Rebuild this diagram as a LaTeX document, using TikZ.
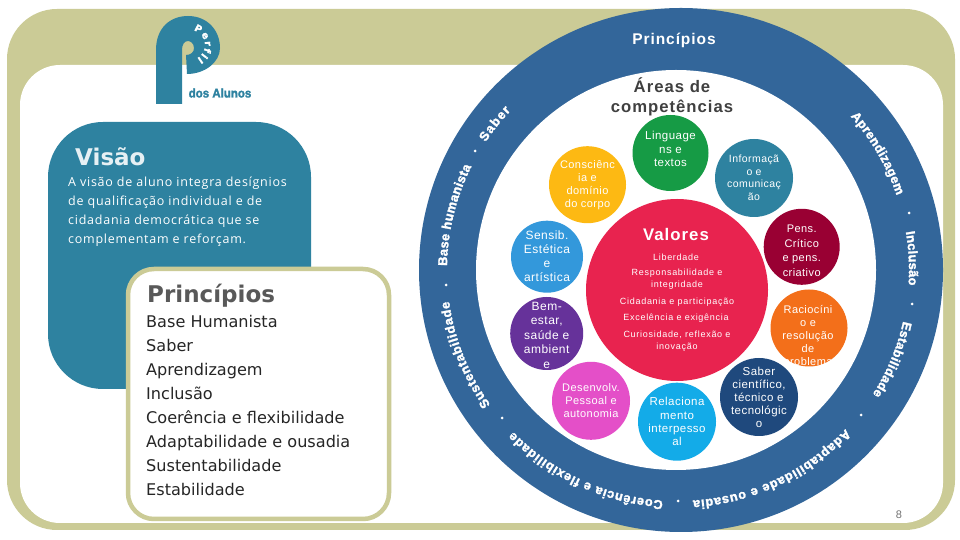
\documentclass[tikz,border=0pt]{standalone}
\usepackage{fontspec}
\usepackage{xcolor}
\usepackage{tikz}
\usetikzlibrary{positioning,decorations.text}
\setmainfont{Liberation Sans}
\newfontfamily\bubfont[LetterSpace=4]{Liberation Sans}
\newfontfamily\headfont[LetterSpace=6]{Liberation Sans}
\newfontfamily\smallfont[LetterSpace=8]{Liberation Sans}
\newfontfamily\bodyfont{DejaVu Sans}
\newfontfamily\parafont[LetterSpace=6]{Open Sans}
\newfontfamily\heavyfont[BoldFeatures={FakeBold=2}]{DejaVu Sans}
\newfontfamily\logofont[BoldFeatures={FakeBold=2}]{Liberation Sans}
\definecolor{olive}{HTML}{CBCB96}
\definecolor{ringblue}{HTML}{33669A}
\definecolor{teal}{HTML}{2E82A0}
\definecolor{consc}{HTML}{FDB913}
\definecolor{lingua}{HTML}{169B45}
\definecolor{verm}{HTML}{E8234F}
\definecolor{sensib}{HTML}{3398DB}
\definecolor{pens}{HTML}{990033}
\definecolor{bem}{HTML}{66329A}
\definecolor{racio}{HTML}{F36F1A}
\definecolor{saber}{HTML}{1F497D}
\definecolor{rela}{HTML}{13ABE8}
\definecolor{desen}{HTML}{E44FC8}

\begin{document}
\begin{tikzpicture}[
  x=1pt,y=1pt,
  bub/.style={circle,inner sep=0pt,minimum size=#1},
  bubtext/.style={white,align=center,inner sep=0pt,font=\bubfont\fontsize{11.5}{13.5}\selectfont},
  vallist/.style={white,align=center,inner sep=0pt,font=\smallfont\fontsize{9}{12.5}\selectfont},
  ringlbl/.style={decorate,decoration={text along path,text align=fit to path,text={|\logofont\bfseries\fontsize{12.8}{14}\selectfont\color{white}|#1}}},
  ringdot/.style={circle,fill=white,inner sep=0pt,minimum size=3pt},
  panel/.style={rectangle,inner sep=0pt}
]
  \useasboundingbox (0,0) rectangle (960,540);
  % frame
  \node[panel,fill=olive,rounded corners=50pt,minimum width=948pt,minimum height=521pt] (frame) at (481,270.5) {};
  \node[panel,fill=white,rounded corners=40pt,minimum width=923pt,minimum height=458pt] (sheet) at (481.5,246) {};

  % logo
  \fill[teal] (156,436) -- (156,490) .. controls (156,512) and (170,524) .. (188,524)
    .. controls (207,524) and (220,510) .. (220,492)
    .. controls (220,478) and (205,466) .. (187,466) -- (186,485)
    .. controls (191,485) and (194,488) .. (194,492)
    .. controls (194,497) and (190,499) .. (188,499)
    .. controls (184,499) and (182,495) .. (182,490) -- (182,436) -- cycle;
  \path[decorate,decoration={text along path,text align=fit to path,text={|\heavyfont\bfseries\fontsize{9.5}{11}\selectfont\color{white}|Perfil}}]
    (190,495) ++(76:15) arc[start angle=76,end angle=-62,radius=15];
  \node[teal,inner sep=0pt,xscale=0.92,font=\logofont\bfseries\fontsize{12.5}{14}\selectfont] (alunos) at (220,447) {dos Alunos};

  % vision panel
  \node[panel,fill=teal,rounded corners=55pt,minimum width=263pt,minimum height=267pt] (visao) at (179.5,284.5) {};
  \node[inner sep=0pt,anchor=west,white!88!teal,font=\bodyfont\bfseries\fontsize{23}{26}\selectfont] (visaot) at (75,383) {Visão};
  \node[inner sep=0pt,anchor=north west,white,align=left,font=\parafont\fontsize{12.5}{19}\selectfont] (visaop) at (68,363.5)
    {A visão de aluno integra desígnios\\de qualificação individual e de\\cidadania democrática que se\\complementam e reforçam.};

  % principles box
  \node[panel,fill=white,draw=olive,line width=4.5pt,rounded corners=26pt,minimum width=261pt,minimum height=250pt] (princ) at (258.5,146) {};
  \node[inner sep=0pt,anchor=west,black!65,font=\bodyfont\bfseries\fontsize{23}{26}\selectfont] (princt) at (147,244) {Princípios};
  \node[inner sep=0pt,anchor=north west,black!85,align=left,font=\bodyfont\fontsize{16.1}{24}\selectfont] (princl) at (146,224.5)
    {Base Humanista\\Saber\\Aprendizagem\\Inclusão\\Coerência e flexibilidade\\Adaptabilidade e ousadia\\Sustentabilidade\\Estabilidade};

  % ring
  \node[bub=524pt,fill=ringblue] (ring) at (681,270) {};
  \node[bub=400pt,fill=white] (hole) at (676,270) {};
  \coordinate (rc) at (678,270);
  \node[white,font=\headfont\bfseries\fontsize{15.5}{18}\selectfont] (princtop) at (674,500) {Princípios};
  \node[black!75,align=center,inner sep=0pt,font=\headfont\bfseries\fontsize{16.7}{20}\selectfont] (areas) at (672,443) {Áreas de\\competências};

  \path[ringlbl=Base humanista] (rc) ++(179:231) arc[start angle=179,end angle=153.4,radius=231];
  \path[ringlbl=Saber] (rc) ++(146.4:231) arc[start angle=146.4,end angle=136.4,radius=231];
  \path[ringlbl=Aprendizagem] (rc) ++(41.7:231) arc[start angle=41.7,end angle=18.8,radius=231];
  \path[ringlbl=Inclusão] (rc) ++(9.5:231) arc[start angle=9.5,end angle=-3.8,radius=231];
  \path[ringlbl=Estabilidade] (rc) ++(-12.8:231) arc[start angle=-12.8,end angle=-32.6,radius=231];
  \path[ringlbl=Adaptabilidade e ousadia] (rc) ++(-43.5:231) arc[start angle=-43.5,end angle=-86.3,radius=231];
  \path[ringlbl=Coerência e flexibilidade] (rc) ++(-93.7:231) arc[start angle=-93.7,end angle=-135.5,radius=231];
  \path[ringlbl=Sustentabilidade] (rc) ++(-144.3:231) arc[start angle=-144.3,end angle=-172.2,radius=231];

  \node[ringdot] (dot1) at (446,255) {};
  \node[ringdot] (dot2) at (475,389) {};
  \node[ringdot] (dot3) at (909,327) {};
  \node[ringdot] (dot4) at (912,236) {};
  \node[ringdot] (dot5) at (861,125) {};
  \node[ringdot] (dot6) at (678,39) {};
  \node[ringdot] (dot7) at (502,122) {};

  % values
  \node[bub=182pt,fill=verm] (val) at (677,250) {};
  \node[white,inner sep=0pt,font=\headfont\bfseries\fontsize{16.8}{18}\selectfont] (valt) at (676,305) {Valores};
  \node[vallist] (v1) at (676,283) {Liberdade};
  \node[vallist] (v2) at (677,261) {Responsabilidade e\\integridade};
  \node[vallist] (v3) at (677,238) {Cidadania e participação};
  \node[vallist] (v4) at (676,222) {Excelência e exigência};
  \node[vallist] (v5) at (677,199) {Curiosidade, reflexão e\\inovação};

  % competence areas
  \node[bub=77pt,fill=consc] (cons) at (587.5,355.3) {};
  \node[bubtext,font=\bubfont\fontsize{11}{13}\selectfont] (const) at (cons) {Consciênc\\ia e\\domínio\\do corpo};
  \node[bub=76pt,fill=lingua] (ling) at (670.5,387) {};
  \node[bubtext] (lingt) at (670.5,391) {Linguage\\ns e\\textos};
  \node[bub=78pt,fill=teal] (info) at (754,362) {};
  \node[bubtext,font=\bubfont\fontsize{10.5}{12.5}\selectfont] (infot) at (info) {Informaçã\\o e\\comunicaç\\ão};
  \node[bub=72pt,fill=sensib] (sens) at (547,283.3) {};
  \node[bubtext,font=\bubfont\fontsize{12}{14}\selectfont] (senst) at (sens) {Sensib.\\Estética\\e\\artística};
  \node[bub=76pt,fill=pens] (pensc) at (801.7,293.2) {};
  \node[bubtext,font=\bubfont\fontsize{11}{14.5}\selectfont] (penst) at (801.7,289) {Pens.\\Crítico\\e pens.\\criativo};
  \node[bub=73pt,fill=bem] (bemc) at (546.7,206.5) {};
  \node[bubtext,font=\bubfont\fontsize{12}{14.5}\selectfont] (bemt) at (546.7,205) {Bem-\\estar,\\saúde e\\ambient\\e};
  \node[bub=77pt,fill=racio] (racc) at (809,212) {};
  \node[bubtext,font=\bubfont\fontsize{11}{13}\selectfont] (ract) at (808,203) {Raciocíni\\o e\\resolução\\de\\problema};
  \node[bub=78pt,fill=saber] (sabc) at (759,143) {};
  \node[bubtext,font=\bubfont\fontsize{11.5}{13}\selectfont] (sabt) at (sabc) {Saber\\científico,\\técnico e\\tecnológic\\o};
  \node[bub=78pt,fill=rela] (relc) at (677,118.3) {};
  \node[bubtext,font=\bubfont\fontsize{11.5}{13.3}\selectfont] (relt) at (relc) {Relaciona\\mento\\interpesso\\al};
  \node[bub=78pt,fill=desen] (desc) at (591,139.2) {};
  \node[bubtext,font=\bubfont\fontsize{11}{13}\selectfont] (dest) at (591,139.5) {Desenvolv.\\Pessoal e\\autonomia};

  \node[black!55,inner sep=0pt,font=\fontsize{11}{13}\selectfont] (pagenum) at (899,25) {8};
\end{tikzpicture}
\end{document}
